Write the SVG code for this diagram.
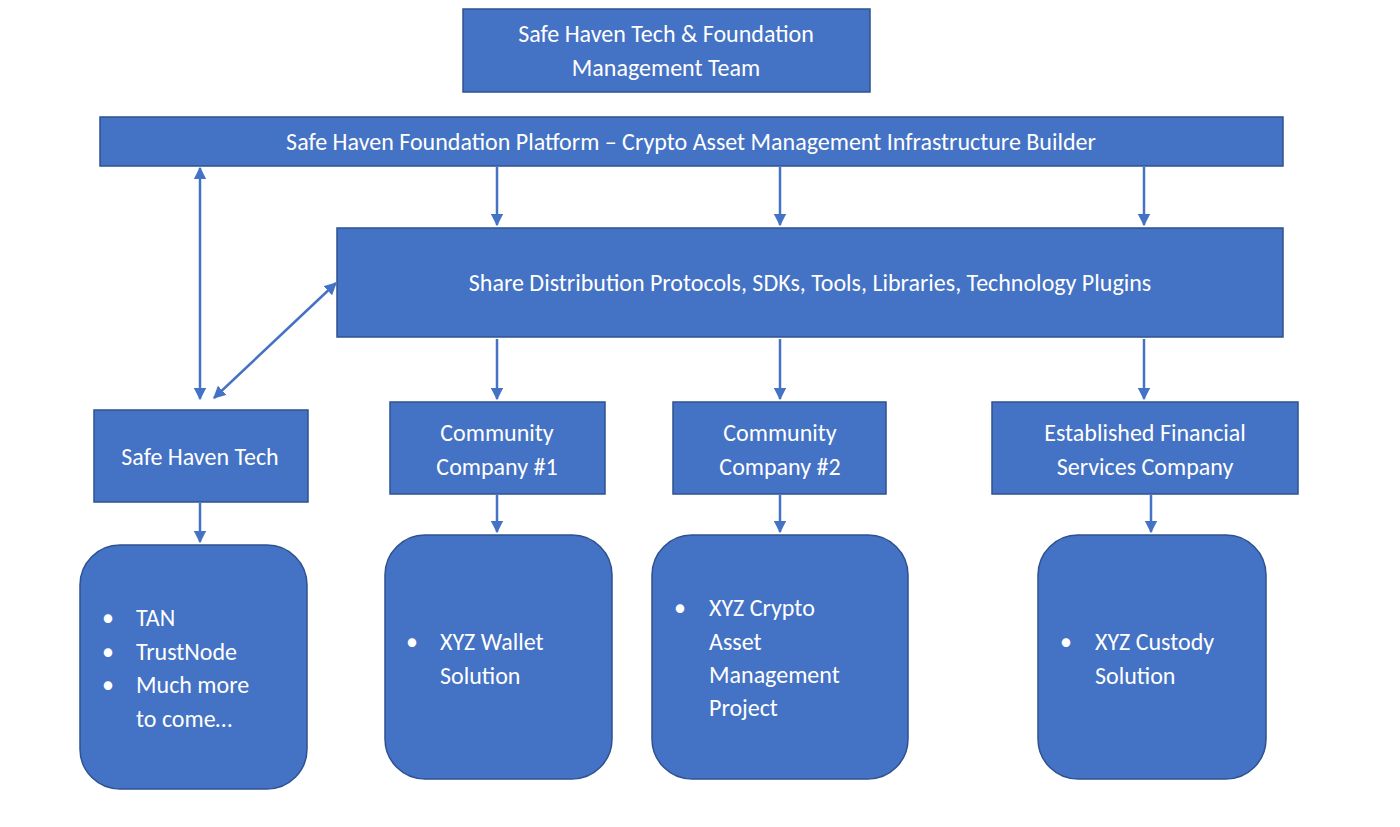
<svg xmlns="http://www.w3.org/2000/svg" width="1400" height="827" viewBox="0 0 1400 827">
<style>
.b{fill:#4472C4;stroke:#2F528F;stroke-width:1.5}
text{font-family:Carlito,"Open Sans","Liberation Sans",sans-serif;font-size:24px;fill:#fff}
.c{text-anchor:middle}
.l{stroke:#4472C4;stroke-width:2.5;fill:none;marker-end:url(#a)}
.d{marker-start:url(#s)}
</style>
<defs>
<marker id="a" viewBox="0 0 10 10" refX="9" refY="5" markerWidth="5" markerHeight="5" orient="auto"><path d="M0,0L10,5L0,10z" fill="#4472C4"/></marker>
<marker id="s" viewBox="0 0 10 10" refX="1" refY="5" markerWidth="5" markerHeight="5" orient="auto"><path d="M10,0L0,5L10,10z" fill="#4472C4"/></marker>
</defs>
<rect width="1400" height="827" fill="#fff"/>
<g id="mgmt"><rect class="b" x="463" y="9" width="407" height="83"/><text class="c" x="666" y="42">Safe Haven Tech &amp; Foundation</text><text class="c" x="666" y="76">Management Team</text></g>
<g id="platform"><rect class="b" x="100" y="117" width="1183" height="49"/><text class="c" x="691" y="150">Safe Haven Foundation Platform – Crypto Asset Management Infrastructure Builder</text></g>
<g id="share"><rect class="b" x="337" y="228" width="946" height="109"/><text class="c" x="810" y="291">Share Distribution Protocols, SDKs, Tools, Libraries, Technology Plugins</text></g>
<g id="sht"><rect class="b" x="94" y="410" width="214" height="92"/><text class="c" x="200" y="465">Safe Haven Tech</text></g>
<g id="cc1"><rect class="b" x="390" y="402" width="215" height="92"/><text class="c" x="497" y="441">Community</text><text class="c" x="497" y="475">Company #1</text></g>
<g id="cc2"><rect class="b" x="673" y="402" width="213" height="92"/><text class="c" x="780" y="441">Community</text><text class="c" x="780" y="475">Company #2</text></g>
<g id="efs"><rect class="b" x="992" y="402" width="306" height="92"/><text class="c" x="1145" y="441">Established Financial</text><text class="c" x="1145" y="475">Services  Company</text></g>
<g id="r1"><rect class="b" x="80" y="545" width="227" height="244" rx="40"/><text x="102" y="626">•</text><text x="136" y="626">TAN</text><text x="102" y="660">•</text><text x="136" y="660">TrustNode</text><text x="102" y="693">•</text><text x="136" y="693">Much more</text><text x="136" y="727">to come…</text></g>
<g id="r2"><rect class="b" x="385" y="535" width="227" height="244" rx="40"/><text x="406" y="650">•</text><text x="440" y="650">XYZ Wallet</text><text x="440" y="684">Solution</text></g>
<g id="r3"><rect class="b" x="652" y="535" width="256" height="244" rx="40"/><text x="674" y="616">•</text><text x="709" y="616">XYZ Crypto</text><text x="709" y="650">Asset</text><text x="709" y="683">Management</text><text x="709" y="716">Project</text></g>
<g id="r4"><rect class="b" x="1038" y="535" width="228" height="244" rx="40"/><text x="1060" y="650">•</text><text x="1095" y="650">XYZ Custody</text><text x="1095" y="684">Solution</text></g>
<g id="connectors">
<path class="l" d="M497,167V225"/><path class="l" d="M780,167V225"/><path class="l" d="M1144,167V225"/>
<path class="l d" d="M200,168V399"/><path class="l d" d="M214,398L336,283"/>
<path class="l" d="M497,339V399"/><path class="l" d="M780,339V399"/><path class="l" d="M1144,339V399"/>
<path class="l" d="M200,503V542"/><path class="l" d="M497,495V532"/><path class="l" d="M780,495V532"/><path class="l" d="M1151,495V532"/>
</g>
</svg>
